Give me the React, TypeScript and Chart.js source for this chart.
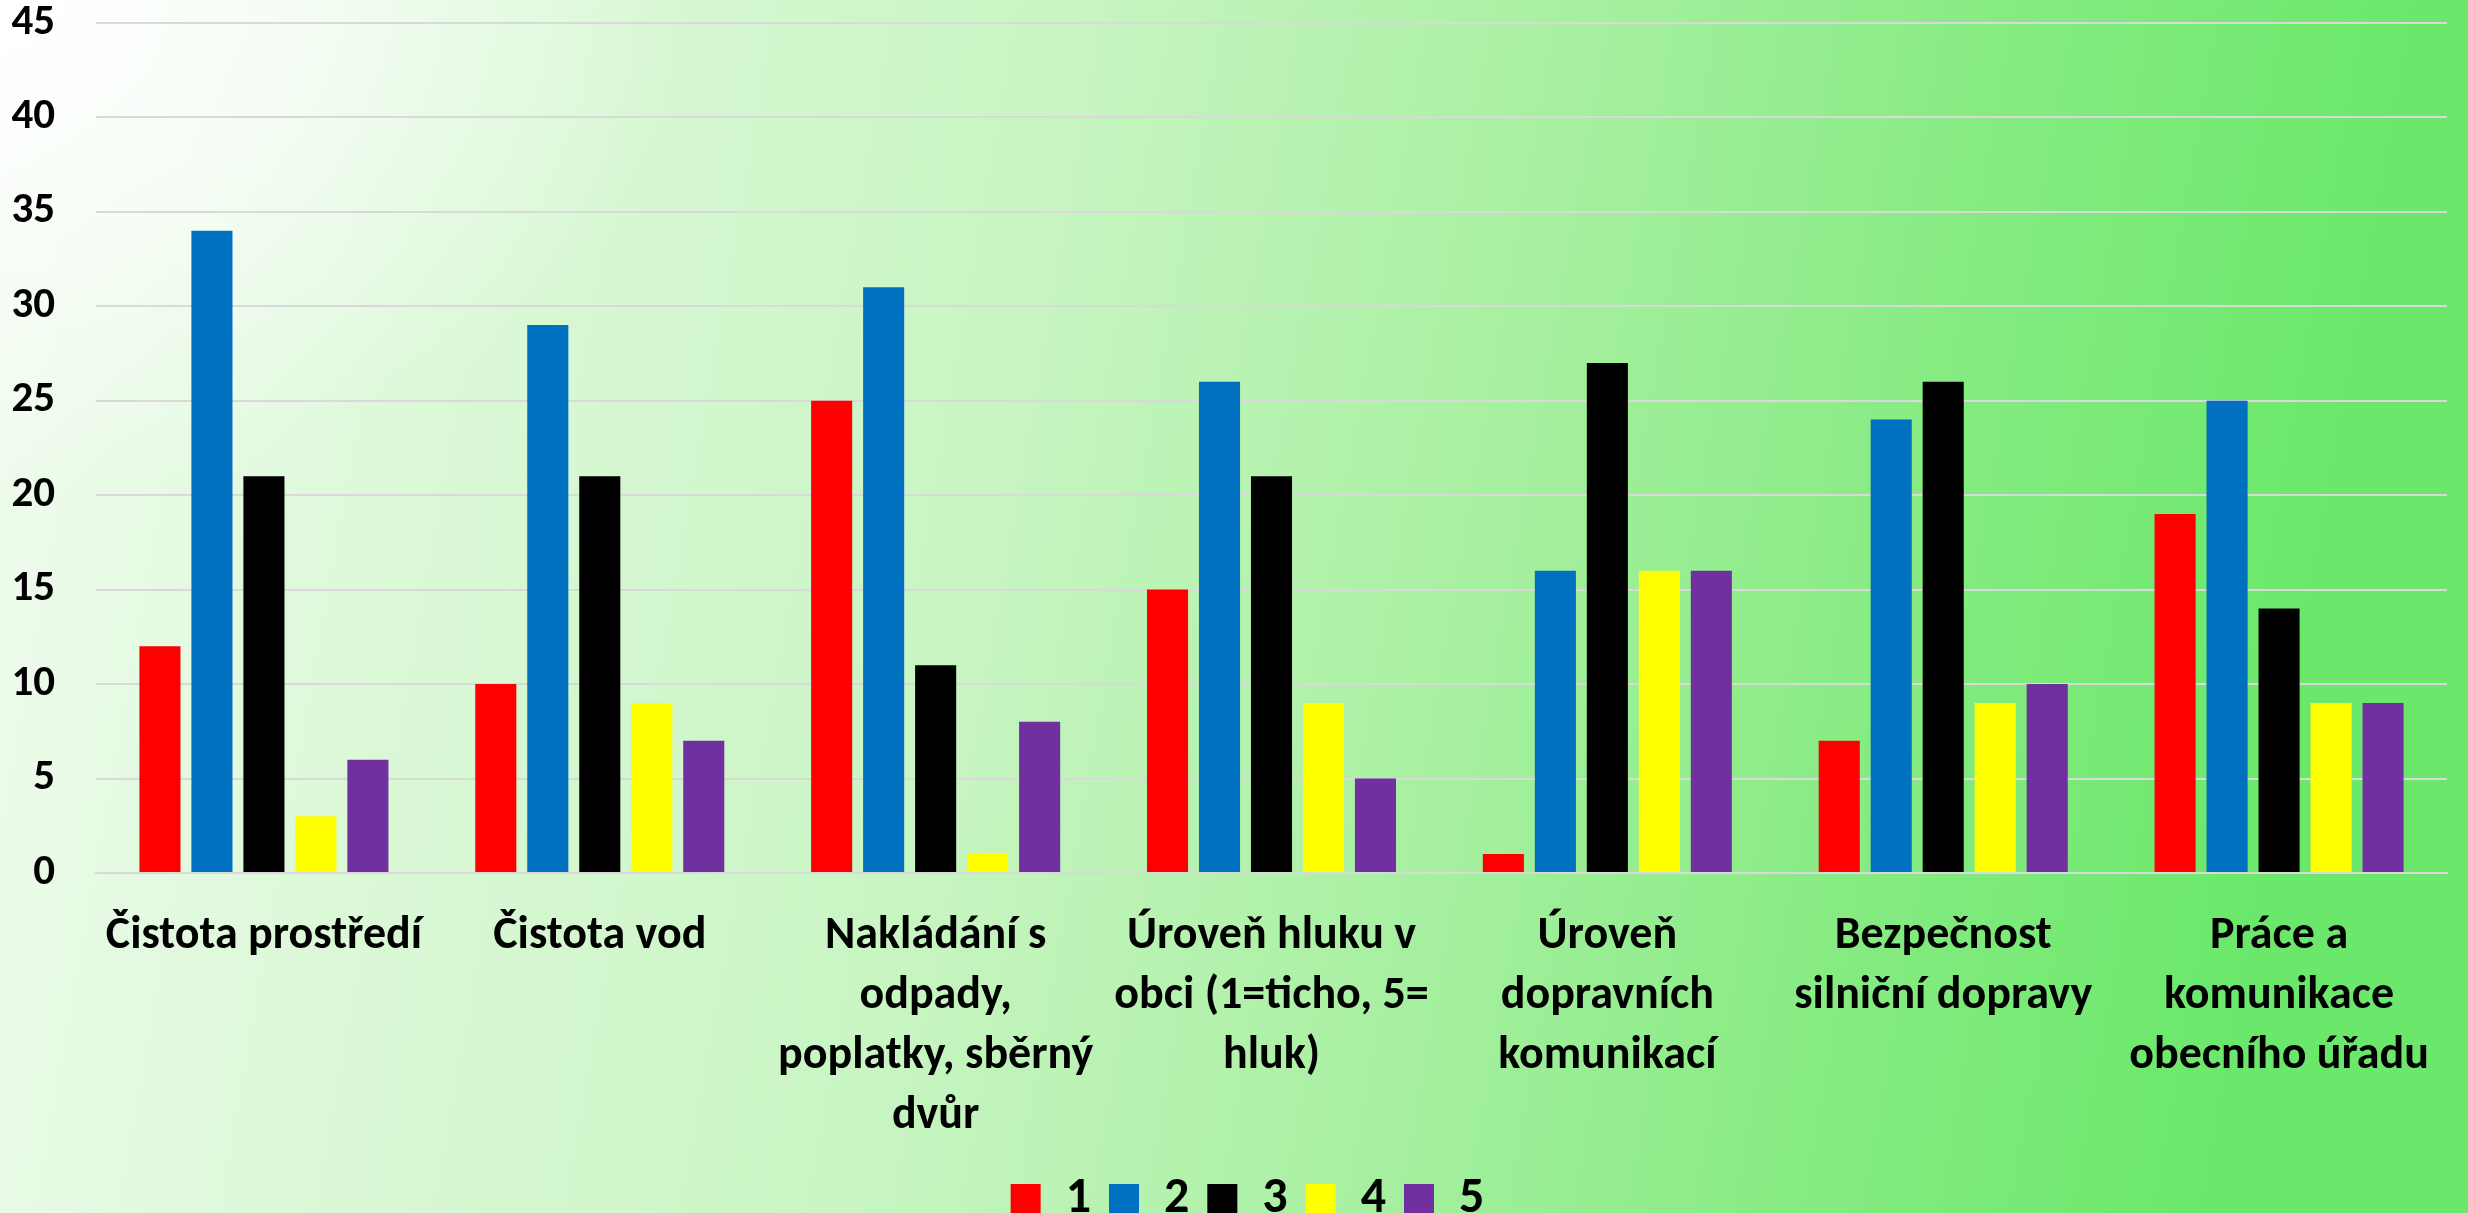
import React, { useEffect, useRef } from "react";
import { Chart, registerables } from "chart.js";

Chart.register(...registerables);

const categories: (string | string[])[] = [
  "Čistota prostředí",
  "Čistota vod",
  ["Nakládání s", "odpady,", "poplatky, sběrný", "dvůr"],
  ["Úroveň hluku v", "obci (1=ticho, 5=", "hluk)"],
  ["Úroveň", "dopravních", "komunikací"],
  ["Bezpečnost", "silniční dopravy"],
  ["Práce a", "komunikace", "obecního úřadu"],
];

const seriesNames = ["1", "2", "3", "4", "5"];
const values1 = [12, 10, 25, 15, 1, 7, 19];
const values2 = [34, 29, 31, 26, 16, 24, 25];
const values3 = [21, 21, 11, 21, 27, 26, 14];
const values4 = [3, 9, 1, 9, 16, 9, 9];
const values5 = [6, 7, 8, 5, 16, 10, 9];
const seriesColors = ["#ff0000", "#0070c0", "#000000", "#ffff00", "#7030a0"];
const yMax = 45;
const yStep = 5;

const FONT = 'Carlito, "Liberation Sans Narrow", Lato, "Open Sans", sans-serif';

const legendShift = {
  id: "legendShift",
  afterLayout(chart: any) {
    const lg = chart.legend;
    if (lg) {
      lg.left += 24;
      lg.right += 24;
    }
  },
};

export default function App() {
  const ref = useRef<HTMLCanvasElement | null>(null);

  useEffect(() => {
    document.body.style.margin = "0";
    const canvas = ref.current;
    if (!canvas) return;
    const allValues = [values1, values2, values3, values4, values5];
    const chart = new Chart(canvas, {
      type: "bar",
      data: {
        labels: categories,
        datasets: allValues.map((v, i) => ({
          label: seriesNames[i],
          data: v,
          backgroundColor: seriesColors[i],
          borderWidth: 0,
          categoryPercentage: 0.774,
          barPercentage: 0.79,
        })),
      },
      plugins: [legendShift],
      options: {
        animation: false,
        responsive: true,
        maintainAspectRatio: false,
        layout: { padding: { top: 21, right: 21, left: 0, bottom: 0 } },
        plugins: {
          title: { display: false },
          tooltip: { enabled: false },
          legend: {
            display: true,
            position: "bottom",
            labels: {
              boxWidth: 30,
              boxHeight: 30,
              padding: 18,
              color: "#000",
              font: { family: FONT, size: 50, weight: "bold" },
            },
          },
        },
        scales: {
          x: {
            grid: { display: false, drawTicks: false },
            border: { display: true, color: "#d9d9d9", width: 2 },
            ticks: {
              autoSkip: false,
              maxRotation: 0,
              minRotation: 0,
              padding: 34,
              color: "#000",
              font: { family: FONT, size: 46, weight: "bold", lineHeight: 1.3 },
            },
            afterFit: (scale: any) => {
              scale.height = 283;
            },
          },
          y: {
            min: 0,
            max: yMax,
            ticks: {
              stepSize: yStep,
              padding: 41,
              color: "#000",
              font: { family: FONT, size: 43, weight: "bold" },
            },
            grid: { color: "#d9d9d9", lineWidth: 2, drawTicks: false },
            border: { display: false },
            afterFit: (scale: any) => {
              scale.width = 96;
            },
          },
        },
      },
    });
    return () => chart.destroy();
  }, []);

  return (
    <div
      style={{
        position: "relative",
        width: 2468,
        height: 1213,
        overflow: "hidden",
        background:
          "radial-gradient(ellipse 700px 500px at 0px 0px, rgba(255,255,255,1) 0%, rgba(255,255,255,0.6) 45%, rgba(255,255,255,0) 100%), linear-gradient(100deg, #f2fcf0 0%, #dcf8d8 18%, #c8f5c2 40%, #a9f0a2 58%, #86eb82 75%, #6be86b 90%, #6be86b 100%)",
      }}
    >
      <div style={{ position: "absolute", left: 0, top: -44, width: 2468, height: 1278 }}>
        <canvas ref={ref} />
      </div>
    </div>
  );
}
